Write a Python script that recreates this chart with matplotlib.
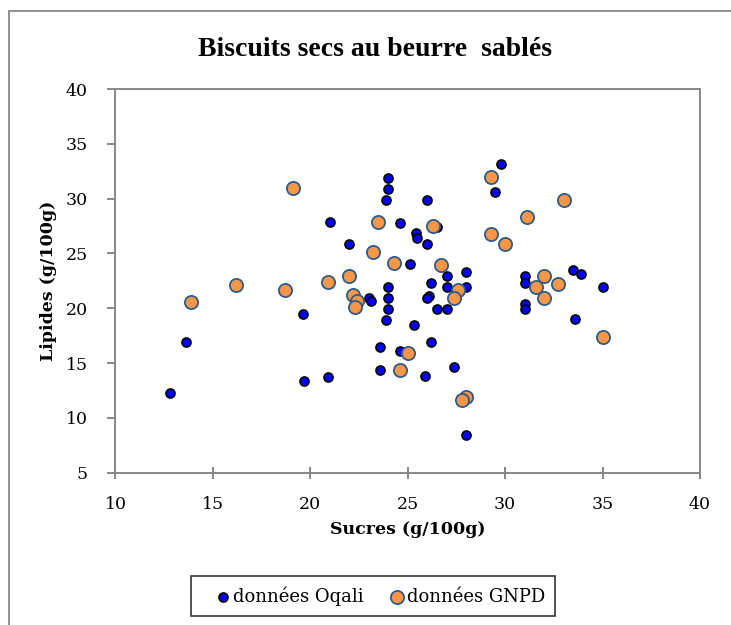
import matplotlib.pyplot as plt
from matplotlib.patches import Rectangle

# ==========================
# Données
# ==========================
oqali_sucres = [21.0, 29.8, 29.5, 24.0, 24.0, 23.9, 26.0, 24.6, 26.5, 25.4,
                25.5, 26.0, 22.0, 25.1, 28.0, 27.0, 31.0, 33.5, 33.9, 26.2,
                23.0, 23.1, 24.0, 24.0, 24.0, 23.9, 25.3, 27.0, 28.0, 26.1,
                26.0, 26.5, 27.0, 31.0, 31.0, 31.0, 35.0, 33.6, 23.6, 24.6,
                26.2, 23.6, 25.9, 27.4, 20.9, 28.0, 19.6, 13.6, 12.8, 19.7]
oqali_lipides = [27.9, 33.2, 30.6, 31.9, 30.9, 29.9, 29.9, 27.8, 27.4, 26.9,
                 26.4, 25.9, 25.9, 24.0, 23.3, 22.9, 22.9, 23.5, 23.1, 22.3,
                 20.9, 20.7, 21.9, 20.9, 19.9, 18.9, 18.5, 21.9, 21.9, 21.1,
                 20.9, 19.9, 19.9, 22.3, 20.4, 19.9, 21.9, 19.0, 16.5, 16.1,
                 16.9, 14.4, 13.8, 14.6, 13.7, 8.4, 19.5, 16.9, 12.3, 13.4]

gnpd_sucres = [19.1, 29.3, 33.0, 23.5, 26.3, 31.1, 29.3, 30.0, 23.2, 24.3,
               26.7, 32.0, 20.9, 22.0, 32.7, 22.2, 22.4, 22.3, 27.6, 27.4,
               31.6, 32.0, 35.0, 25.0, 24.6, 28.0, 27.8, 13.9, 16.2, 18.7]
gnpd_lipides = [31.0, 32.0, 29.9, 27.9, 27.5, 28.3, 26.8, 25.9, 25.1, 24.1,
                23.9, 22.9, 22.4, 22.9, 22.2, 21.2, 20.7, 20.1, 21.7, 20.9,
                21.9, 20.9, 17.4, 15.9, 14.4, 11.9, 11.6, 20.6, 22.1, 21.7]

serif = "DejaVu Serif"
titre_font = "Liberation Serif"
gris = "#878787"

# ==========================
# Figure
# ==========================
fig = plt.figure(figsize=(7.31, 6.25), dpi=100)
fig.patches.append(Rectangle((9/731, -0.1), 1.2, 1 - 11/625 + 0.1,
                             transform=fig.transFigure, fill=False,
                             edgecolor=gris, linewidth=1.3))

ax = fig.add_axes([0.158, 0.2437, 0.7995, 0.6139])

ax.scatter(oqali_sucres, oqali_lipides, s=42, c="#0000ff",
           edgecolors="black", linewidths=1.2, label="données Oqali", zorder=3)
ax.scatter(gnpd_sucres, gnpd_lipides, s=90, c="#f79646",
           edgecolors="#2f5b8c", linewidths=1.3, label="données GNPD", zorder=4)

ax.set_xlim(10, 40)
ax.set_ylim(5, 40)
ax.set_xticks(range(10, 41, 5))
ax.set_yticks(range(5, 41, 5))

for s in ax.spines.values():
    s.set_color(gris)
    s.set_linewidth(1.4)
ax.tick_params(axis="both", colors=gris, width=1.4, labelcolor="black",
               labelsize=12.5)
ax.tick_params(axis="x", direction="inout", length=9, pad=12)
ax.tick_params(axis="y", direction="out", length=6, pad=14)
for lab in ax.get_xticklabels() + ax.get_yticklabels():
    lab.set_fontfamily(serif)

ax.set_xlabel("Sucres (g/100g)", fontfamily=serif, fontweight="bold",
              fontsize=12.5, labelpad=6)
ax.set_ylabel("Lipides (g/100g)", fontfamily=serif, fontweight="bold",
              fontsize=12.5, labelpad=6)

fig.text(0.513, 0.92, "Biscuits secs au beurre  sablés", fontfamily=titre_font,
         fontweight="bold", fontsize=20, ha="center", va="center")

leg = fig.legend(loc="center", bbox_to_anchor=(0.51, 0.0464), ncol=2,
                 frameon=True, fancybox=False, edgecolor="black",
                 prop={"family": serif, "size": 13}, handletextpad=-0.7,
                 columnspacing=0.6, borderpad=0.55, borderaxespad=0,
                 handlelength=2.5)
leg.get_frame().set_linewidth(1.2)

fig.savefig("out.png", dpi=100)
plt.close()
